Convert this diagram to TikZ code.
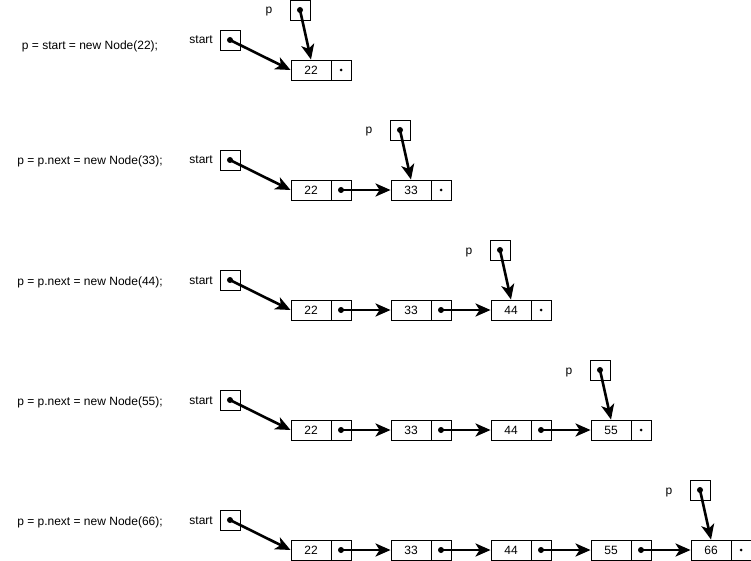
\documentclass[tikz,border=0pt]{standalone}
\usepackage{fontspec}
\setmainfont{Liberation Sans}
\usetikzlibrary{arrows.meta}
\begin{document}
\begin{tikzpicture}[x=1pt,y=-1pt,
  every node/.style={font=\fontsize{12}{14}\selectfont, inner sep=0pt},
  cell/.style={draw, line width=0.9pt, minimum height=20pt},
  datacell/.style={cell, minimum width=40pt},
  ptrcell/.style={cell, minimum width=20pt},
  varbox/.style={cell, minimum width=20pt},
  ptr/.style={line width=2.6pt, -{Stealth[length=15pt,width=13pt,inset=4pt]}, shorten >=0pt},
  bigdot/.style={fill, circle, minimum size=6pt},
  smalldot/.style={fill, circle, minimum size=3pt}]
\useasboundingbox (0,0) rectangle (751,561);
\foreach \r/\lab/\ly in {1/{p = start = new Node(22);}/50,
                         2/{p = p.next = new Node(33);}/165,
                         3/{p = p.next = new Node(44);}/285,
                         4/{p = p.next = new Node(55);}/405,
                         5/{p = p.next = new Node(66);}/525}{
  \pgfmathsetmacro{\yo}{(\r-1)*120}
  \node[anchor=base] (code\r) at (90,\ly) {\lab};
  \node[varbox] (s\r) at (230,40+\yo) {};
  \node[anchor=base east] (sl\r) at (213,44+\yo) {start};
  \foreach \i/\v in {1/22,2/33,3/44,4/55,5/66}{
    \ifnum\i>\r\relax\else
      \node[datacell] (d\r-\i) at (311+100*\i-100,70+\yo) {\v};
      \node[ptrcell] (c\r-\i) at (341+100*\i-100,70+\yo) {};
    \fi
  }
  \pgfmathtruncatemacro{\px}{300+100*(\r-1)}
  \node[varbox] (p\r) at (\px,10+\yo) {};
  \node[anchor=base] (pl\r) at (\px-31,14+\yo) {p};
  \node[bigdot] (sd\r) at (s\r.center) {};
  \node[bigdot] (pd\r) at (p\r.center) {};
  \draw[ptr] (s\r.center) -- (d\r-1.west);
  \draw[ptr] (p\r.center) -- (d\r-\r.north);
  \node[smalldot] (ld\r) at (c\r-\r.center) {};
  \ifnum\r>1\relax
    \pgfmathtruncatemacro{\rmax}{\r-1}
    \foreach \i in {1,...,\rmax}{
      \pgfmathtruncatemacro{\j}{\i+1}
      \node[bigdot] (cd\r-\i) at (c\r-\i.center) {};
      \draw[ptr] (c\r-\i.center) -- (d\r-\j.west);
    }
  \fi
}
\end{tikzpicture}
\end{document}
